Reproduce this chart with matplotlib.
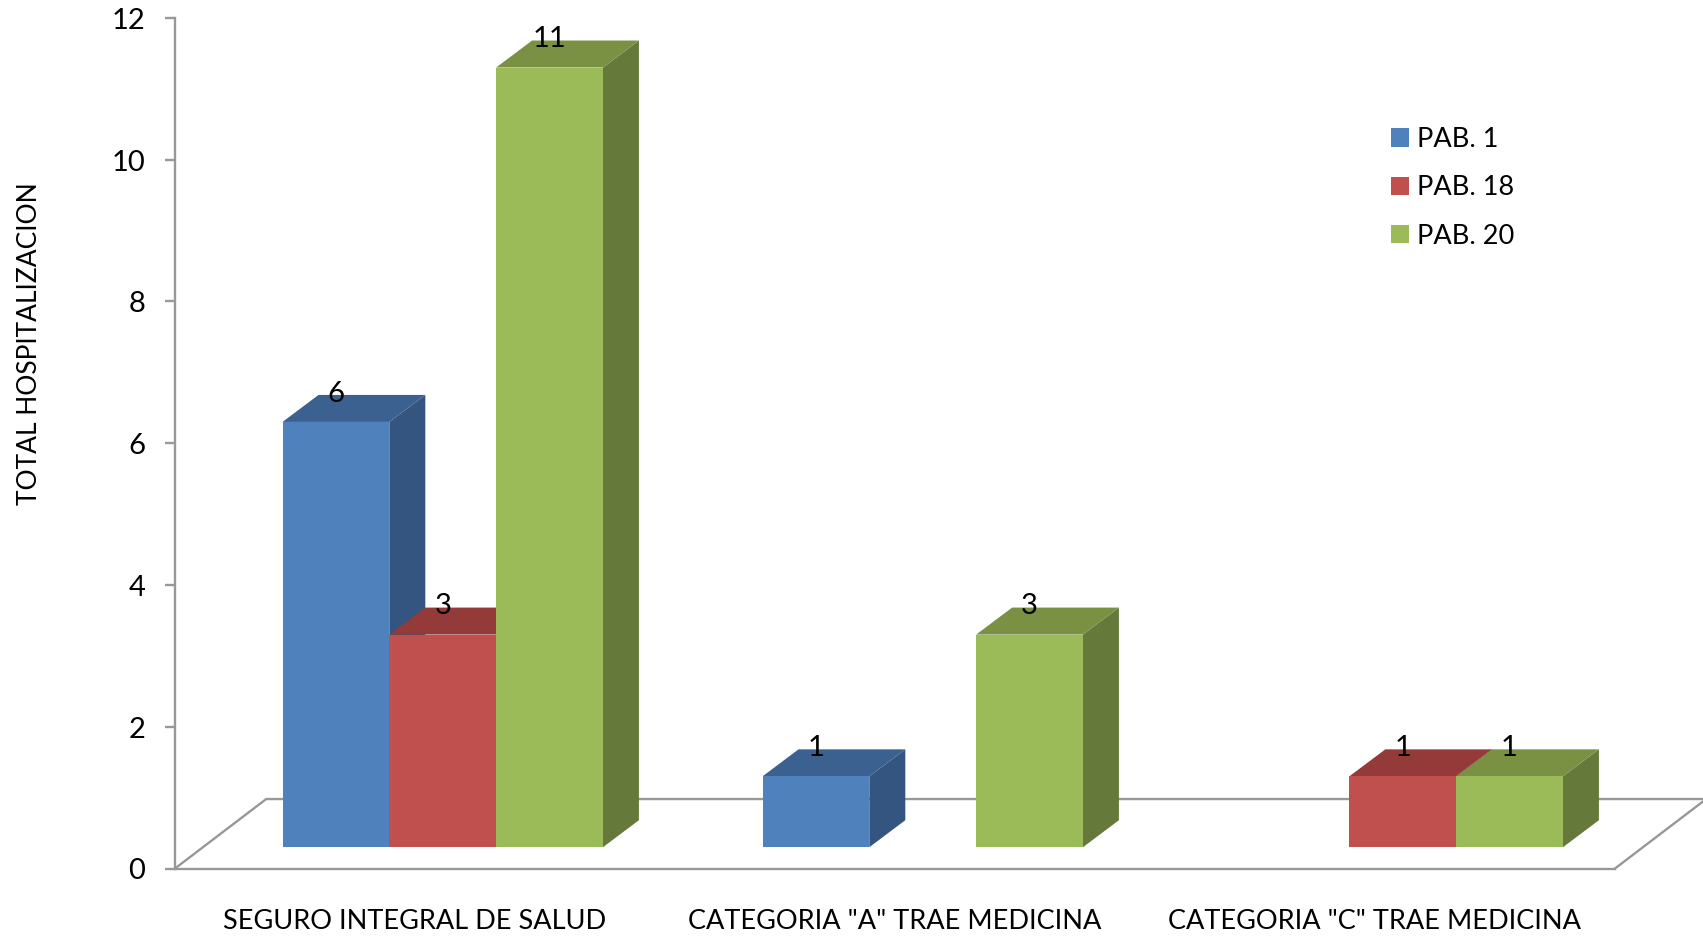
import matplotlib
matplotlib.use('Agg')
import matplotlib.pyplot as plt
from matplotlib.patches import Patch
from matplotlib.transforms import ScaledTranslation

plt.rcParams['font.family'] = ['Lato', 'DejaVu Sans']

#chart data
categories = ['SEGURO INTEGRAL DE SALUD', 'CATEGORIA "A" TRAE MEDICINA', 'CATEGORIA "C" TRAE MEDICINA']
series_names = ['PAB. 1', 'PAB. 18', 'PAB. 20']
pab_1 = [6, 1, 0]
pab_18 = [3, 0, 1]
pab_20 = [11, 3, 1]
y_ticks = [0, 2, 4, 6, 8, 10, 12]

#colours: front, side, top
front_colors = ['#4F81BD', '#C0504D', '#9BBB59']
side_colors = ['#33557F', '#8C3A38', '#657A3A']
top_colors = ['#3A6190', '#943A38', '#7A9144']
line_color = '#989898'

#fake 3d geometry, in axis units
bar_w = 0.2225
first_bar = 0.224
base = 0.30
depth_x = 0.075
depth_y = 0.381
floor_x = 0.19
floor_y = 0.98

fig = plt.figure(figsize=(17.03, 9.40), dpi=100)
ax = fig.add_axes([175 / 1703, 1 - 868.5 / 940, 1440 / 1703, 850.6 / 940])
ax.set_xlim(0, 3)
ax.set_ylim(0, 12)

#floor of the 3d box
ax.plot([0, floor_x, 3 + floor_x], [0, floor_y, floor_y], color=line_color, lw=1.7, clip_on=False, zorder=1)
ax.plot([3, 3 + floor_x], [0, floor_y], color=line_color, lw=1.7, clip_on=False, zorder=1)

#bars, one series after the other so the later ones cover the earlier ones
all_series = [pab_1, pab_18, pab_20]
for s, values in enumerate(all_series):
    z = 3 + s
    lefts = [g + first_bar + s * bar_w for g in range(len(categories))]
    for left, val in zip(lefts, values):
        if val == 0:
            continue
        right = left + bar_w
        top = val + base
        ax.fill([right, right + depth_x, right + depth_x, right],
                [base, base + depth_y, top + depth_y, top],
                color=side_colors[s], lw=0, zorder=z, clip_on=False)
        ax.fill([left, left + depth_x, right + depth_x, right],
                [top, top + depth_y, top + depth_y, top],
                color=top_colors[s], lw=0, zorder=z, clip_on=False)
        ax.bar(left, val, bar_w, bottom=base, align='edge', color=front_colors[s], lw=0, zorder=z + 0.5)
        ax.text(left + bar_w / 2, top + 0.40, str(val), ha='center', va='center',
                fontsize=21, color='black', zorder=10)

#axes
for side in ['top', 'right']:
    ax.spines[side].set_visible(False)
for side in ['left', 'bottom']:
    ax.spines[side].set_color(line_color)
    ax.spines[side].set_linewidth(1.7)
ax.set_yticks(y_ticks)
ax.set_xticks([0.5, 1.5, 2.5])
ax.set_xticklabels(categories)
ax.tick_params(axis='y', length=7, width=1.7, color=line_color, labelsize=21, pad=14.5)
ax.tick_params(axis='x', length=0, labelsize=19.5, pad=29)
for label in ax.get_yticklabels():
    label.set_transform(label.get_transform() + ScaledTranslation(0, -0.3 / 72, fig.dpi_scale_trans))
ax.set_ylabel('TOTAL HOSPITALIZACION', fontsize=19)
ax.yaxis.set_label_coords((42 - 175) / 1440, (868.5 - 344) / 850.6)

#legend
handles = [Patch(color=c, lw=0) for c in front_colors]
ax.legend(handles, series_names, loc='upper left', bbox_to_anchor=(1391 / 1703, 1 - 127 / 940),
          bbox_transform=fig.transFigure, frameon=False, fontsize=19.5, borderpad=0, borderaxespad=0,
          handlelength=0.67, handleheight=0.67, handletextpad=0.28, labelspacing=0.86)

plt.savefig('out.png', dpi=100)
